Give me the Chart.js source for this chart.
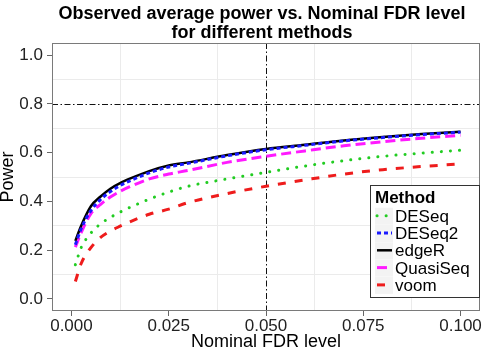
<!DOCTYPE html>
<html>
<head>
<meta charset="utf-8">
<script src="https://cdn.jsdelivr.net/npm/chart.js@4/dist/chart.umd.min.js"></script>
<style>
  html, body { margin: 0; padding: 0; background: #fff; }
  #wrap { width: 489px; height: 357px; }
</style>
</head>
<body>
<div id="wrap"><canvas id="powerChart" width="489" height="357"></canvas></div>
<script>
// nominal FDR levels (x)
const fdrLevels = [0.001, 0.0025, 0.005, 0.0075, 0.01, 0.0125, 0.015, 0.02, 0.025, 0.03, 0.04, 0.05, 0.06, 0.07, 0.08, 0.09, 0.1];

// observed average power per method
const deseq    = [0.140, 0.210, 0.270, 0.308, 0.334, 0.356, 0.375, 0.409, 0.438, 0.462, 0.492, 0.519, 0.545, 0.567, 0.585, 0.598, 0.610];
const deseq2   = [0.222, 0.288, 0.362, 0.408, 0.440, 0.465, 0.484, 0.517, 0.541, 0.556, 0.587, 0.612, 0.630, 0.648, 0.662, 0.674, 0.684];
const edger    = [0.238, 0.300, 0.380, 0.420, 0.452, 0.475, 0.493, 0.524, 0.547, 0.560, 0.590, 0.615, 0.632, 0.650, 0.664, 0.676, 0.686];
const quasiseq = [0.212, 0.272, 0.350, 0.388, 0.418, 0.441, 0.460, 0.492, 0.512, 0.527, 0.560, 0.585, 0.607, 0.628, 0.645, 0.659, 0.671];
const voom     = [0.071, 0.145, 0.210, 0.252, 0.278, 0.298, 0.316, 0.347, 0.368, 0.395, 0.432, 0.462, 0.488, 0.512, 0.530, 0.543, 0.554];

const methods = ['DESeq', 'DESeq2', 'edgeR', 'QuasiSeq', 'voom'];

// ticks
const xTicks = [0, 0.0125, 0.025, 0.0375, 0.05, 0.0625, 0.075, 0.0875, 0.1];
const xTickLabels = ['0.000', '', '0.025', '', '0.050', '', '0.075', '', '0.100'];
const yTicks = [0, 0.1, 0.2, 0.3, 0.4, 0.5, 0.6, 0.7, 0.8, 0.9, 1.0];
const yTickLabels = ['0.0', '', '0.2', '', '0.4', '', '0.6', '', '0.8', '', '1.0'];

// reference lines
const fdrCutoff = 0.05;
const powerTarget = 0.8;

const FONT = "'Liberation Sans', Arial, Helvetica, sans-serif";

const styles = [
  { color: '#22cc22', width: 3, dash: [0.1, 9], cap: 'round' },
  { color: '#1a1aff', width: 3, dash: [4, 3], cap: 'butt' },
  { color: '#000000', width: 2.5, dash: [], cap: 'butt' },
  { color: '#ff1aff', width: 3, dash: [10, 5], cap: 'butt' },
  { color: '#ee1c1c', width: 3, dash: [8, 9], cap: 'butt' }
];

const series = [deseq, deseq2, edger, quasiseq, voom];

const datasets = series.map((vals, i) => ({
  label: methods[i],
  data: fdrLevels.map((x, j) => ({ x: x, y: vals[j] })),
  borderColor: styles[i].color,
  borderWidth: styles[i].width,
  borderDash: styles[i].dash,
  borderCapStyle: styles[i].cap,
  pointRadius: 0,
  fill: false,
  cubicInterpolationMode: 'monotone'
}));

const isMajor = (labels, idx) => labels[idx] !== '';

const decorPlugin = {
  id: 'decor',
  beforeDatasetsDraw(chart) {
    const { ctx, chartArea: a, scales: { x, y } } = chart;
    // reference lines
    ctx.save();
    ctx.strokeStyle = '#111';
    ctx.lineWidth = 1;
    ctx.setLineDash([6, 2.5, 1.5, 2.5]);
    const py = Math.round(y.getPixelForValue(powerTarget)) + 0.5;
    ctx.beginPath(); ctx.moveTo(a.left, py); ctx.lineTo(a.right, py); ctx.stroke();
    const px = Math.round(x.getPixelForValue(fdrCutoff)) + 0.5;
    ctx.beginPath(); ctx.moveTo(px, a.top); ctx.lineTo(px, a.bottom); ctx.stroke();
    ctx.restore();
  },
  afterDraw(chart) {
    const { ctx, chartArea: a } = chart;
    ctx.save();
    // panel border
    ctx.strokeStyle = '#7a7a7a';
    ctx.lineWidth = 1;
    ctx.strokeRect(a.left + 0.5, a.top + 0.5, a.right - a.left - 1, a.bottom - a.top - 1);

    // title
    ctx.fillStyle = '#000';
    ctx.textAlign = 'center';
    ctx.textBaseline = 'middle';
    ctx.font = 'bold 18px ' + FONT;
    ctx.fillText('Observed average power vs. Nominal FDR level', 262, 14);
    ctx.fillText('for different methods', 262, 33);

    // axis titles
    ctx.font = '18px ' + FONT;
    ctx.fillText('Nominal FDR level', (a.left + a.right) / 2, 342);
    ctx.save();
    ctx.translate(8, (a.top + a.bottom) / 2);
    ctx.rotate(-Math.PI / 2);
    ctx.fillText('Power', 0, 0);
    ctx.restore();

    // legend
    const lx = 370, ly = 185, lw = 110, lh = 113;
    ctx.fillStyle = '#fff';
    ctx.fillRect(lx, ly, lw, lh);
    ctx.strokeStyle = '#333';
    ctx.lineWidth = 1;
    ctx.strokeRect(lx + 0.5, ly + 0.5, lw - 1, lh - 1);
    ctx.fillStyle = '#000';
    ctx.textAlign = 'left';
    ctx.textBaseline = 'alphabetic';
    ctx.font = 'bold 17px ' + FONT;
    ctx.fillText('Method', 375, 202.5);
    ctx.font = '17px ' + FONT;
    methods.forEach((m, i) => {
      const base = 221.7 + i * 17.3;
      const ky = base - 6;
      ctx.fillStyle = '#f3f3f3';
      ctx.fillRect(375, ky - 8, 18, 17);
      ctx.strokeStyle = styles[i].color;
      ctx.lineWidth = styles[i].width;
      ctx.setLineDash(styles[i].dash);
      ctx.lineCap = styles[i].cap;
      ctx.beginPath(); ctx.moveTo(377, ky); ctx.lineTo(392, ky); ctx.stroke();
      ctx.setLineDash([]);
      ctx.lineCap = 'butt';
      ctx.fillStyle = '#000';
      ctx.fillText(m, 395, base);
    });
    ctx.restore();
  }
};

Chart.defaults.font.family = FONT;

new Chart(document.getElementById('powerChart'), {
  type: 'line',
  data: { datasets: datasets },
  options: {
    responsive: false,
    animation: false,
    layout: { padding: { top: 43, right: 9, left: 0, bottom: 0 } },
    plugins: {
      legend: { display: false },
      title: { display: false },
      tooltip: { enabled: false }
    },
    scales: {
      x: {
        type: 'linear',
        min: -0.005,
        max: 0.105,
        afterBuildTicks: (s) => { s.ticks = xTicks.map(v => ({ value: v })); },
        afterFit: (s) => { s.height = 46; },
        ticks: {
          autoSkip: false,
          maxRotation: 0,
          padding: 0,
          color: '#222',
          font: { size: 17 },
          callback: (v, idx) => xTickLabels[idx]
        },
        grid: {
          color: (c) => isMajor(xTickLabels, c.index) ? 'rgba(0,0,0,0)' : '#ebebeb',
          tickColor: (c) => isMajor(xTickLabels, c.index) ? '#666' : 'rgba(0,0,0,0)',
          tickLength: 5,
          lineWidth: 1
        },
        border: { display: false }
      },
      y: {
        type: 'linear',
        min: -0.05,
        max: 1.05,
        afterBuildTicks: (s) => { s.ticks = yTicks.map(v => ({ value: v })); },
        afterFit: (s) => { s.width = 52; },
        ticks: {
          autoSkip: false,
          padding: 4,
          color: '#222',
          font: { size: 17 },
          callback: (v, idx) => yTickLabels[idx]
        },
        grid: {
          color: (c) => isMajor(yTickLabels, c.index) ? 'rgba(0,0,0,0)' : '#ebebeb',
          tickColor: (c) => isMajor(yTickLabels, c.index) ? '#666' : 'rgba(0,0,0,0)',
          tickLength: 5,
          lineWidth: 1
        },
        border: { display: false }
      }
    }
  },
  plugins: [decorPlugin]
});
</script>
</body>
</html>
